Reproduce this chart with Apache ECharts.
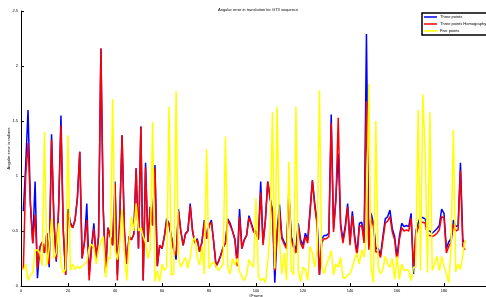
<!DOCTYPE html>
<html>
<head>
<meta charset="utf-8">
<script src="https://cdn.jsdelivr.net/npm/echarts@6/dist/echarts.min.js"></script>
<style>
  html, body { margin: 0; padding: 0; background: #fff; }
  #chart { width: 486px; height: 297px; }
</style>
</head>
<body>
<div id="chart"></div>
<script>
// values for frames 1..189
var threePoints = [
  0.68, 1.1, 1.6, 0.75, 0.39, 0.95, 0.07, 0.35, 0.4, 0.3,
  0.48, 0.17, 1.38, 0.6, 0.22, 0.7, 1.55, 0.5, 0.1, 0.7,
  0.58, 0.53, 0.6, 0.8, 1.22, 0.25, 0.4, 0.75, 0.1, 0.35,
  0.57, 0.25, 0.45, 2.16, 0.7, 0.12, 0.53, 0.45, 0.37, 0.95,
  0.1, 0.6, 1.37, 0.5, 0.2, 0.45, 0.42, 0.47, 1.07, 0.34,
  1.45, 0.05, 1.12, 0.4, 0.72, 0.55, 1.1, 0.18, 0.37, 0.34,
  0.45, 0.61, 0.57, 0.45, 0.33, 0.24, 0.7, 0.5, 0.37, 0.48,
  0.5, 0.75, 0.5, 0.39, 0.43, 0.31, 0.4, 0.6, 0.43, 0.55,
  0.6, 0.4, 0.19, 0.22, 0.28, 0.35, 0.39, 0.61, 0.57, 0.5,
  0.43, 0.22, 0.7, 0.34, 0.42, 0.46, 0.64, 0.57, 0.5, 0.5,
  0.43, 0.95, 0.39, 0.6, 0.95, 0.8, 0.69, 0.03, 0.5, 0.74,
  0.45, 0.4, 0.36, 0.86, 0.45, 0.38, 0.33, 0.57, 0.42, 0.37,
  0.48, 0.42, 0.69, 0.96, 0.75, 0.58, 0.1, 0.43, 0.46, 0.46,
  0.48, 1.56, 0.52, 0.8, 1.2, 0.57, 0.42, 0.55, 0.75, 0.4,
  0.68, 0.45, 0.3, 0.57, 0.58, 0.42, 2.29, 0.36, 0.66, 0.57,
  0.34, 0.34, 0.28, 0.45, 0.61, 0.63, 0.69, 0.52, 0.45, 0.26,
  0.45, 0.57, 0.54, 0.55, 0.54, 0.66, 0.11, 0.5, 0.57, 0.63,
  0.62, 0.61, 0.5, 0.5, 0.48, 0.5, 0.52, 0.55, 0.7, 0.66,
  0.34, 0.4, 0.43, 0.6, 0.54, 0.55, 1.12, 0.42, 0.39
];
var threePointsHomography = [
  0.15, 1.0, 1.3, 0.75, 0.39, 0.65, 0.16, 0.35, 0.4, 0.3,
  0.48, 0.2, 1.33, 0.6, 0.24, 0.7, 1.46, 0.5, 0.1, 0.66,
  0.56, 0.53, 0.6, 0.8, 1.22, 0.25, 0.4, 0.6, 0.05, 0.35,
  0.52, 0.25, 0.45, 2.16, 0.7, 0.12, 0.53, 0.45, 0.37, 0.93,
  0.05, 0.6, 1.37, 0.5, 0.2, 0.45, 0.42, 0.47, 1.07, 0.34,
  1.45, 0.05, 1.08, 0.4, 0.72, 0.55, 1.07, 0.18, 0.37, 0.34,
  0.45, 0.6, 0.56, 0.44, 0.33, 0.28, 0.68, 0.5, 0.37, 0.47,
  0.5, 0.73, 0.5, 0.39, 0.42, 0.31, 0.4, 0.58, 0.43, 0.55,
  0.58, 0.4, 0.17, 0.22, 0.28, 0.35, 0.39, 0.6, 0.55, 0.5,
  0.42, 0.18, 0.63, 0.34, 0.42, 0.46, 0.62, 0.56, 0.49, 0.48,
  0.42, 0.85, 0.37, 0.6, 0.95, 0.8, 0.66, 0.14, 0.48, 0.68,
  0.43, 0.38, 0.34, 0.82, 0.42, 0.35, 0.3, 0.54, 0.39, 0.34,
  0.45, 0.39, 0.66, 0.96, 0.72, 0.56, 0.1, 0.4, 0.43, 0.43,
  0.45, 1.48, 0.49, 0.78, 1.53, 0.54, 0.39, 0.52, 0.72, 0.37,
  0.64, 0.42, 0.27, 0.54, 0.55, 0.39, 1.68, 0.33, 0.62, 0.54,
  0.31, 0.31, 0.26, 0.42, 0.57, 0.59, 0.63, 0.49, 0.42, 0.22,
  0.42, 0.53, 0.5, 0.51, 0.5, 0.62, 0.18, 0.46, 0.53, 0.58,
  0.58, 0.57, 0.46, 0.46, 0.45, 0.46, 0.48, 0.51, 0.63, 0.62,
  0.3, 0.36, 0.4, 0.56, 0.5, 0.51, 1.05, 0.36, 0.33
];
var fivePoints = [
  0.14, 0.2, 0.05, 0.1, 0.12, 0.32, 0.33, 0.3, 0.18, 1.4,
  0.18, 0.35, 0.61, 0.25, 0.3, 0.57, 0.2, 0.12, 0.15, 1.37,
  0.14, 0.2, 0.15, 0.18, 0.16, 0.18, 0.2, 0.22, 0.35, 0.38,
  0.35, 0.2, 0.33, 0.4, 0.45, 0.08, 0.25, 0.25, 1.7, 0.33,
  0.24, 0.4, 0.7, 0.3, 0.05, 0.4, 0.63, 0.5, 0.75, 0.5,
  0.53, 0.45, 0.39, 0.25, 0.33, 1.49, 0.04, 0.14, 0.04, 0.2,
  0.14, 0.17, 1.63, 0.1, 0.11, 1.77, 0.26, 0.17, 0.22, 0.26,
  0.16, 0.26, 0.41, 0.44, 0.26, 0.19, 0.36, 0.11, 1.24, 0.16,
  0.2, 0.22, 0.18, 0.14, 0.17, 0.2, 1.36, 0.17, 0.11, 0.25,
  0.19, 0.25, 0.13, 0.08, 0.05, 0.1, 0.24, 0.2, 0.17, 0.8,
  0.09, 0.05, 0.07, 0.03, 0.22, 0.5, 1.58, 0.16, 1.63, 0.4,
  0.11, 0.3, 0.05, 1.13, 0.14, 0.1, 1.63, 0.14, 0.04, 0.17,
  0.15, 0.05, 0.36, 0.3, 0.17, 0.33, 1.78, 0.17, 0.11, 0.2,
  0.25, 0.32, 0.1, 0.2, 0.17, 0.26, 0.08, 0.07, 0.1, 0.11,
  0.17, 0.25, 0.3, 0.2, 0.33, 0.26, 0.45, 1.84, 0.17, 0.03,
  1.5, 0.17, 0.11, 0.15, 0.27, 0.2, 0.17, 0.25, 0.06, 0.27,
  0.06, 0.2, 0.14, 0.15, 0.14, 0.05, 0.17, 0.17, 1.6, 0.14,
  1.74, 1.2, 0.12, 1.58, 0.14, 0.2, 0.27, 0.14, 0.27, 0.18,
  0.11, 0.03, 0.35, 1.42, 0.13, 0.2, 0.15, 0.28, 0.42
];
var yTicks = [0, 0.5, 1, 1.5, 2, 2.5];

function pairs(arr) {
  return arr.map(function (v, i) { return [i + 1, v]; });
}

var chart = echarts.init(document.getElementById('chart'));

var axisCommon = {
  axisLine: { show: true, lineStyle: { color: '#000', width: 1 } },
  axisTick: { show: true, inside: true, length: 3, lineStyle: { color: '#000' } },
  axisLabel: { color: '#000', fontSize: 4, fontFamily: 'Liberation Sans', margin: 3 },
  splitLine: { show: false },
  nameMoveOverlap: false,
  nameTextStyle: { color: '#000', fontSize: 4, fontFamily: 'Liberation Sans' }
};

var option = {
  animation: false,
  backgroundColor: '#fff',
  title: {
    text: 'Angular error in translation for GT3 sequence',
    left: 213,
    top: 3,
    textStyle: { fontSize: 4, fontWeight: 'normal', color: '#000', fontFamily: 'Liberation Sans' }
  },
  legend: {
    orient: 'vertical',
    left: 422,
    top: 13,
    itemWidth: 13,
    itemHeight: 1.5,
    itemGap: 3,
    padding: [2, 30, 2, 2],
    borderColor: '#000',
    borderWidth: 1.5,
    backgroundColor: '#fff',
    icon: 'rect',
    textStyle: { fontSize: 4, color: '#000', fontFamily: 'Liberation Sans', padding: [0, 0, 0, -2] },
    data: ['Three points', 'Three points Homography', 'Five points']
  },
  grid: { left: 21, right: -5, top: 11, bottom: 11, containLabel: false, outerBoundsMode: 'none' },
  xAxis: Object.assign({}, axisCommon, {
    type: 'value',
    min: 0,
    max: 200,
    interval: 20,
    name: '#Frame',
    nameLocation: 'middle',
    nameGap: 8
  }),
  yAxis: Object.assign({}, axisCommon, {
    type: 'value',
    min: yTicks[0],
    max: yTicks[yTicks.length - 1],
    interval: 0.5,
    name: 'Angular error in radians',
    nameLocation: 'middle',
    nameGap: 10
  }),
  series: [
    { name: 'Three points', type: 'line', data: pairs(threePoints), showSymbol: false,
      itemStyle: { color: '#0000ff' }, lineStyle: { color: '#0000ff', width: 1.5 } },
    { name: 'Three points Homography', type: 'line', data: pairs(threePointsHomography), showSymbol: false,
      itemStyle: { color: '#ff0000' }, lineStyle: { color: '#ff0000', width: 1.5 } },
    { name: 'Five points', type: 'line', data: pairs(fivePoints), showSymbol: false,
      itemStyle: { color: '#ffff00' }, lineStyle: { color: '#ffff00', width: 1.5 } }
  ]
};

chart.setOption(option);
</script>
</body>
</html>
